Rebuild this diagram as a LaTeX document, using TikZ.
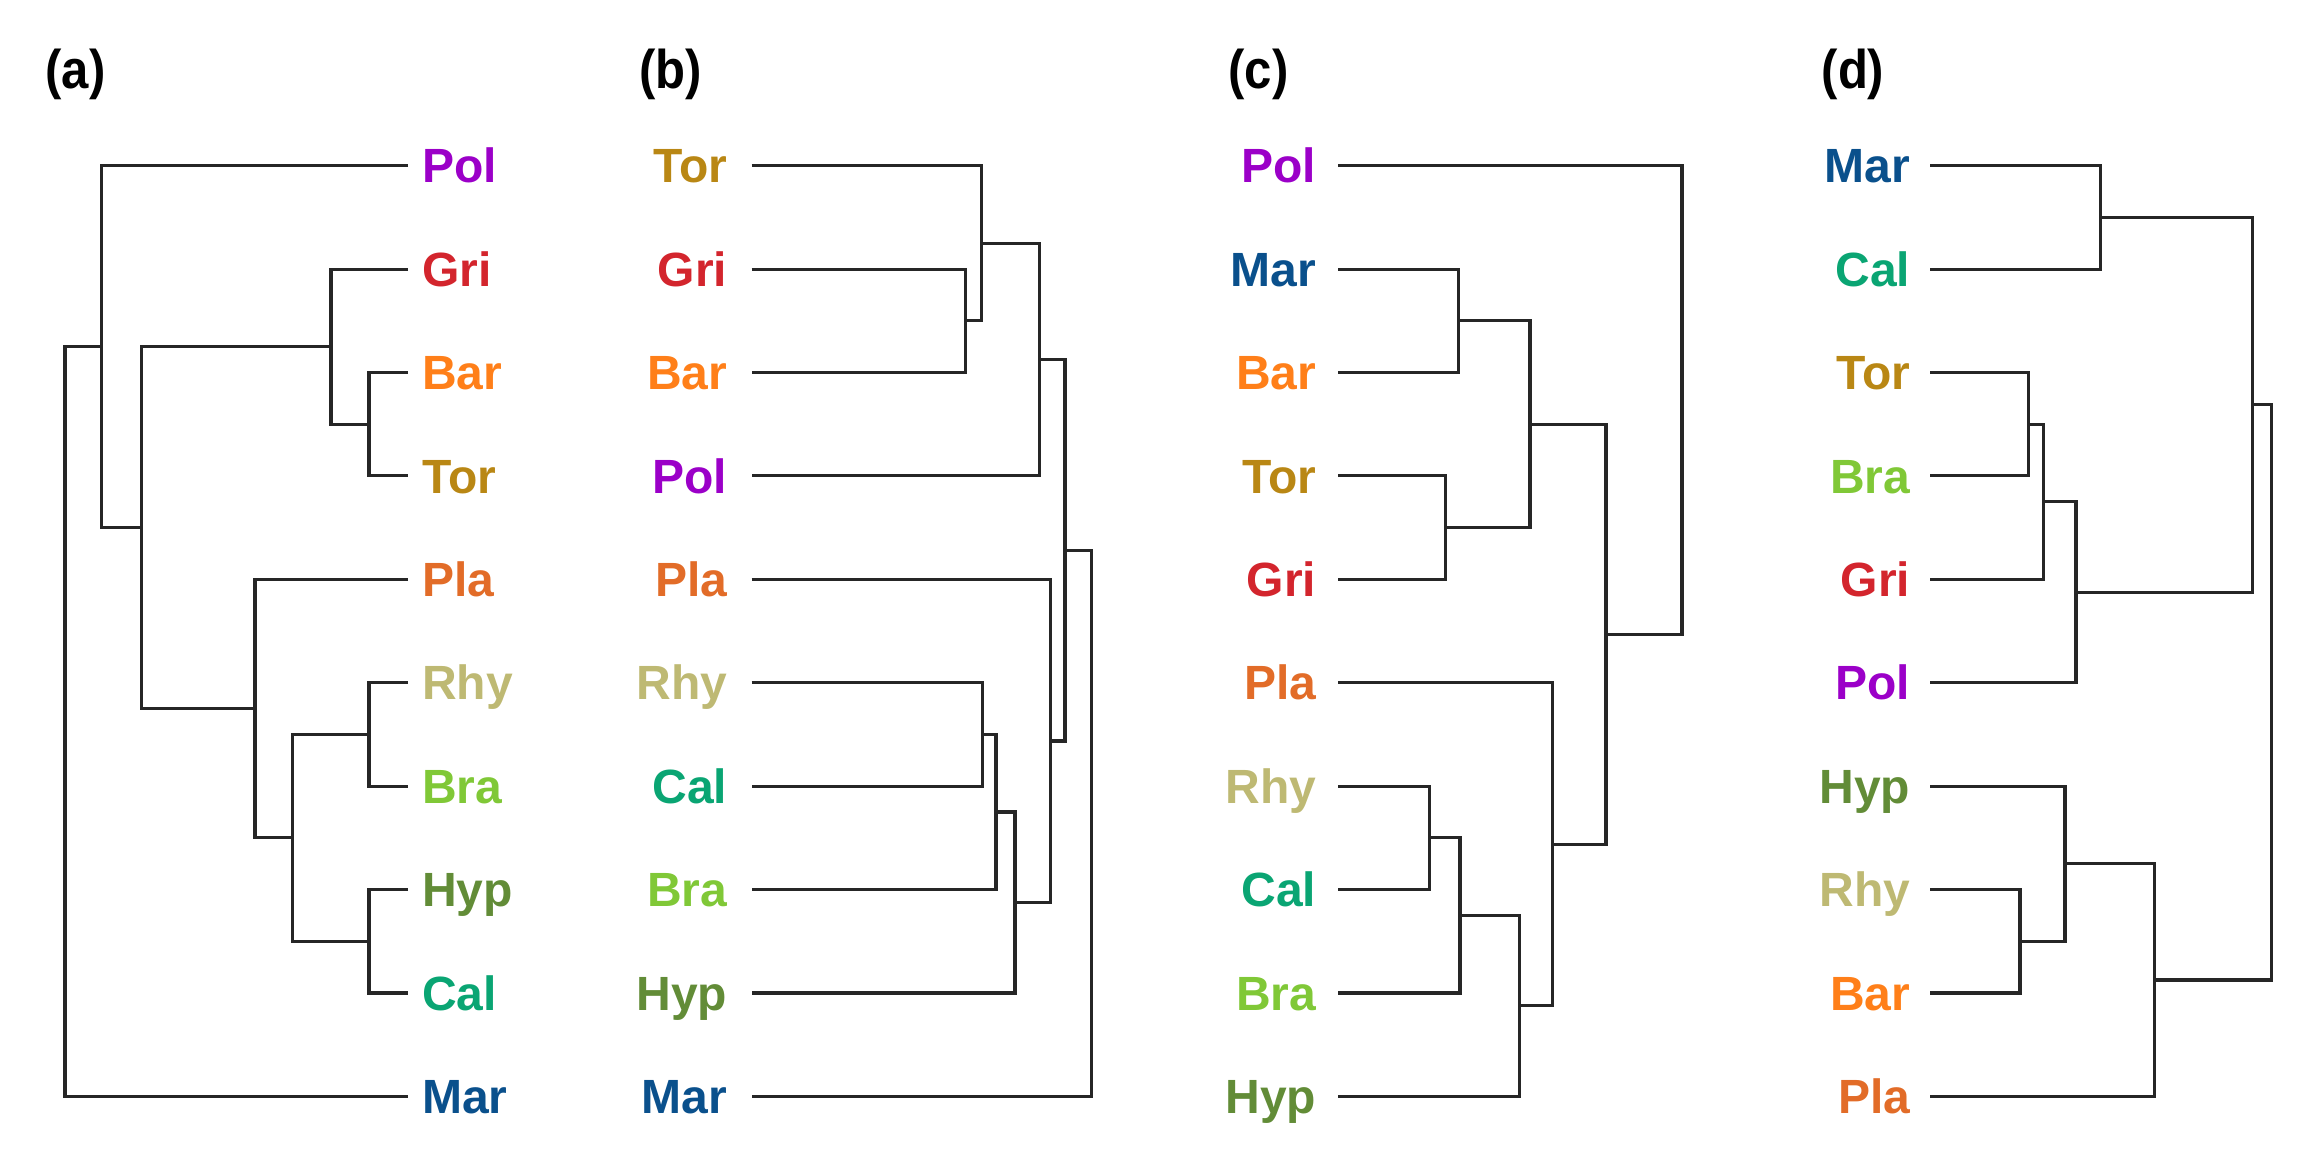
\documentclass[tikz,border=0pt]{standalone}
\usepackage{fontspec}
\setmainfont{Liberation Sans}
\definecolor{cPol}{RGB}{155,0,200}
\definecolor{cGri}{RGB}{211,37,45}
\definecolor{cBar}{RGB}{255,127,25}
\definecolor{cTor}{RGB}{185,135,20}
\definecolor{cPla}{RGB}{226,108,40}
\definecolor{cRhy}{RGB}{190,185,115}
\definecolor{cBra}{RGB}{128,200,55}
\definecolor{cHyp}{RGB}{98,140,55}
\definecolor{cCal}{RGB}{10,165,115}
\definecolor{cMar}{RGB}{10,80,140}
\begin{document}
\begin{tikzpicture}[x=0.01cm,y=-0.01cm,
  br/.style={draw=black!85, line width=0.9pt, line join=miter},
  lab/.style={inner sep=0pt, font=\bfseries\fontsize{13.66}{16}\selectfont},
  ttl/.style={inner sep=0pt, anchor=base west, xscale=0.9, font=\bfseries\fontsize{15.5}{19}\selectfont}]
\useasboundingbox (0,0) rectangle (2304,1151);
% titles
\node[ttl] (ta) at (45,88) {(a)};
\node[ttl] (tb) at (639,88) {(b)};
\node[ttl] (tc) at (1228,88) {(c)};
\node[ttl] (td) at (1821,88) {(d)};
% leaves
\foreach \n [count=\i from 0] in {Pol,Gri,Bar,Tor,Pla,Rhy,Bra,Hyp,Cal,Mar}{
  \node[lab, anchor=base west, text=c\n] (a\n) at (421.5, 165.7+103.4*\i+17.2) {\n};
  \coordinate (at\n) at (408, 165.7+103.4*\i);
}
\foreach \n [count=\i from 0] in {Tor,Gri,Bar,Pol,Pla,Rhy,Cal,Bra,Hyp,Mar}{
  \node[lab, anchor=base east, text=c\n] (b\n) at (728, 165.7+103.4*\i+17.2) {\n};
  \coordinate (bt\n) at (751.7, 165.7+103.4*\i);
}
\foreach \n [count=\i from 0] in {Pol,Mar,Bar,Tor,Gri,Pla,Rhy,Cal,Bra,Hyp}{
  \node[lab, anchor=base east, text=c\n] (c\n) at (1317, 165.7+103.4*\i+17.2) {\n};
  \coordinate (ct\n) at (1338.3, 165.7+103.4*\i);
}
\foreach \n [count=\i from 0] in {Mar,Cal,Tor,Bra,Gri,Pol,Hyp,Rhy,Bar,Pla}{
  \node[lab, anchor=base east, text=c\n] (d\n) at (1911, 165.7+103.4*\i+17.2) {\n};
  \coordinate (dt\n) at (1930, 165.7+103.4*\i);
}
% tree (a)
\coordinate (naBT) at (369,424.2);     \draw[br] (atBar) -| (naBT) |- (atTor);
\coordinate (naGBT) at (331,346.65);   \draw[br] (atGri) -| (naGBT) |- (naBT);
\coordinate (naRB) at (369,734.4);     \draw[br] (atRhy) -| (naRB) |- (atBra);
\coordinate (naHC) at (369,941.2);     \draw[br] (atHyp) -| (naHC) |- (atCal);
\coordinate (naRBHC) at (292.3,837.8); \draw[br] (naRB) -| (naRBHC) |- (naHC);
\coordinate (naPla) at (255,708.55);   \draw[br] (atPla) -| (naPla) |- (naRBHC);
\coordinate (naBig) at (141.7,527.6);  \draw[br] (naGBT) -| (naBig) |- (naPla);
\coordinate (naPol) at (101.7,346.65); \draw[br] (atPol) -| (naPol) |- (naBig);
\coordinate (naRoot) at (65,721.5);    \draw[br] (naPol) -| (naRoot) |- (atMar);
% tree (b)
\coordinate (nbGB) at (965.7,320.8);     \draw[br] (btGri) -| (nbGB) |- (btBar);
\coordinate (nbTGB) at (981.7,243.25);   \draw[br] (btTor) -| (nbTGB) |- (nbGB);
\coordinate (nbTGBP) at (1039.3,359.6);  \draw[br] (nbTGB) -| (nbTGBP) |- (btPol);
\coordinate (nbRC) at (982.3,734.4);     \draw[br] (btRhy) -| (nbRC) |- (btCal);
\coordinate (nbRCB) at (996,811.95);     \draw[br] (nbRC) -| (nbRCB) |- (btBra);
\coordinate (nbRCBH) at (1015,902.4);    \draw[br] (nbRCB) -| (nbRCBH) |- (btHyp);
\coordinate (nbPla) at (1050.7,740.9);   \draw[br] (btPla) -| (nbPla) |- (nbRCBH);
\coordinate (nbUp) at (1065,550.25);     \draw[br] (nbTGBP) -| (nbUp) |- (nbPla);
\coordinate (nbRoot) at (1091.7,823.3);  \draw[br] (nbUp) -| (nbRoot) |- (btMar);
% tree (c)
\coordinate (ncMB) at (1458.3,320.8);    \draw[br] (ctMar) -| (ncMB) |- (ctBar);
\coordinate (ncTG) at (1445.7,527.6);    \draw[br] (ctTor) -| (ncTG) |- (ctGri);
\coordinate (ncMBTG) at (1530,424.2);    \draw[br] (ncMB) -| (ncMBTG) |- (ncTG);
\coordinate (ncRC) at (1429.3,837.8);    \draw[br] (ctRhy) -| (ncRC) |- (ctCal);
\coordinate (ncRCB) at (1460,915.35);    \draw[br] (ncRC) -| (ncRCB) |- (ctBra);
\coordinate (ncRCBH) at (1519.3,1005.8); \draw[br] (ncRCB) -| (ncRCBH) |- (ctHyp);
\coordinate (ncPla) at (1552.3,844.25);  \draw[br] (ctPla) -| (ncPla) |- (ncRCBH);
\coordinate (ncMid) at (1606,634.2);     \draw[br] (ncMBTG) -| (ncMid) |- (ncPla);
\coordinate (ncRoot) at (1682,399.95);   \draw[br] (ctPol) -| (ncRoot) |- (ncMid);
% tree (d)
\coordinate (ndMC) at (2100.7,217.4);    \draw[br] (dtMar) -| (ndMC) |- (dtCal);
\coordinate (ndTB) at (2028.3,424.2);    \draw[br] (dtTor) -| (ndTB) |- (dtBra);
\coordinate (ndTBG) at (2043.3,501.75);  \draw[br] (ndTB) -| (ndTBG) |- (dtGri);
\coordinate (ndTBGP) at (2076,592.2);    \draw[br] (ndTBG) -| (ndTBGP) |- (dtPol);
\coordinate (ndUp) at (2252.3,404.8);    \draw[br] (ndMC) -| (ndUp) |- (ndTBGP);
\coordinate (ndRB) at (2020,941.2);      \draw[br] (dtRhy) -| (ndRB) |- (dtBar);
\coordinate (ndHRB) at (2065,863.65);    \draw[br] (dtHyp) -| (ndHRB) |- (ndRB);
\coordinate (ndLow) at (2154.3,979.97);  \draw[br] (ndHRB) -| (ndLow) |- (dtPla);
\coordinate (ndRoot) at (2271.7,692.4);  \draw[br] (ndUp) -| (ndRoot) |- (ndLow);
\end{tikzpicture}
\end{document}
